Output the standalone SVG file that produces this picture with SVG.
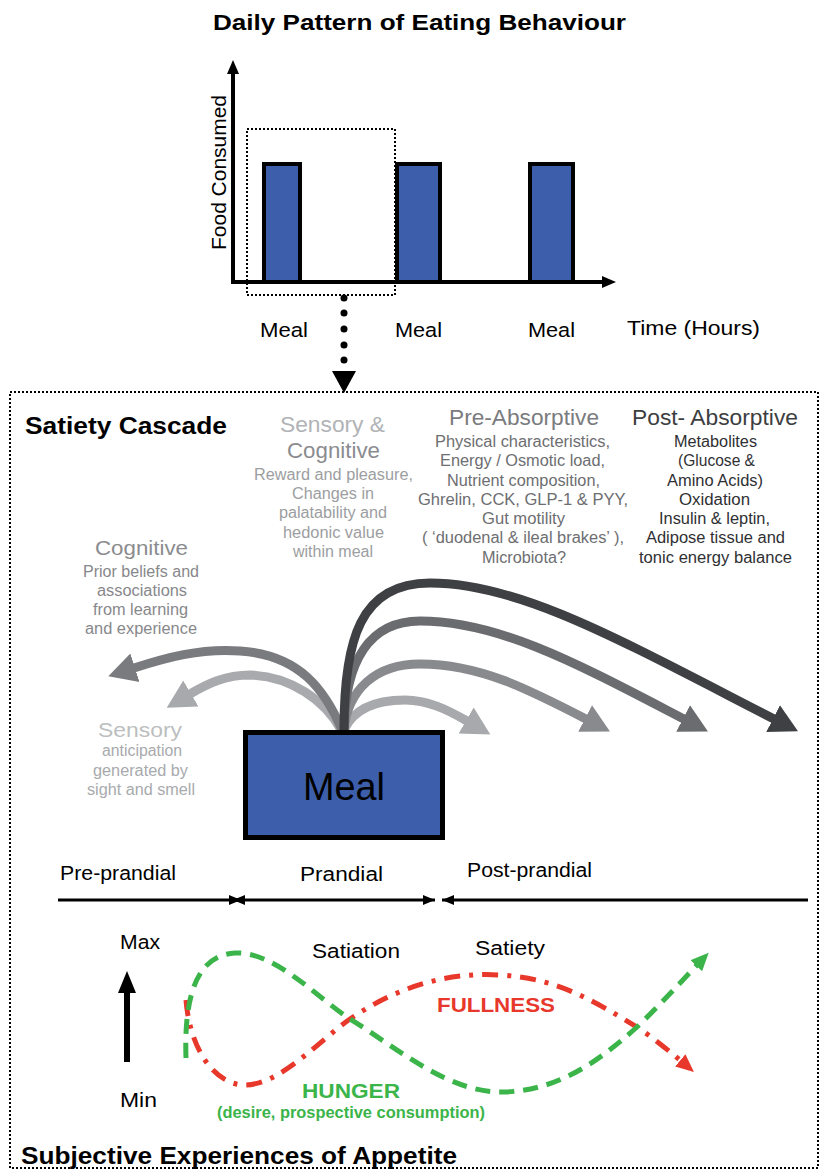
<svg xmlns="http://www.w3.org/2000/svg" width="824" height="1171" viewBox="0 0 824 1171">
<style>
text{font-family:"Liberation Sans",Arial,Helvetica,sans-serif}
.b{font-weight:bold}
.bar{fill:#3d5fab;stroke:#000;stroke-width:4}
.ax{stroke:#000;stroke-width:4;fill:none}
.dot{fill:none;stroke:#000;stroke-width:2;stroke-dasharray:2 2}
.g{fill:none;stroke-width:9;stroke-linecap:butt}
.tl{stroke:#000;stroke-width:3;fill:none}
.hun{fill:none;stroke:#3bb44a;stroke-width:5;stroke-dasharray:15 9}
.ful{fill:none;stroke:#e8382b;stroke-width:5;stroke-dasharray:16 9 4 9}
</style>
<defs>
<marker id="axh" markerUnits="userSpaceOnUse" viewBox="0 0 14 12" refX="2" refY="6" markerWidth="14" markerHeight="12" orient="auto"><path d="M0,0 L14,6 L0,12 z" fill="#000"/></marker>
<marker id="tlh" markerUnits="userSpaceOnUse" viewBox="0 0 12 12" refX="12" refY="6" markerWidth="12" markerHeight="12" orient="auto-start-reverse"><path d="M0,1 L12,6 L0,11 z" fill="#000"/></marker>
<marker id="up" markerUnits="userSpaceOnUse" viewBox="0 0 22 18" refX="1" refY="9" markerWidth="22" markerHeight="18" orient="auto"><path d="M0,0 L22,9 L0,18 z" fill="#000"/></marker>
<marker id="a1" markerUnits="userSpaceOnUse" viewBox="0 0 28 32" refX="1" refY="16" markerWidth="28" markerHeight="32" orient="auto"><path d="M0,1 L28,16 L0,31 z" fill="#3f4043"/></marker>
<marker id="a2" markerUnits="userSpaceOnUse" viewBox="0 0 28 32" refX="1" refY="16" markerWidth="28" markerHeight="32" orient="auto"><path d="M0,1 L28,16 L0,31 z" fill="#6b6c6f"/></marker>
<marker id="a3" markerUnits="userSpaceOnUse" viewBox="0 0 28 32" refX="1" refY="16" markerWidth="28" markerHeight="32" orient="auto"><path d="M0,1 L28,16 L0,31 z" fill="#898a8d"/></marker>
<marker id="a4" markerUnits="userSpaceOnUse" viewBox="0 0 28 32" refX="1" refY="16" markerWidth="28" markerHeight="32" orient="auto"><path d="M0,1 L28,16 L0,31 z" fill="#a7a9ac"/></marker>
<marker id="a5" markerUnits="userSpaceOnUse" viewBox="0 0 28 32" refX="1" refY="16" markerWidth="28" markerHeight="32" orient="auto"><path d="M0,1 L28,16 L0,31 z" fill="#7a7b7e"/></marker>
<marker id="gh" markerUnits="userSpaceOnUse" viewBox="0 0 18 16" refX="1" refY="8" markerWidth="18" markerHeight="16" orient="auto"><path d="M0,0 L18,8 L0,16 z" fill="#3bb44a"/></marker>
<marker id="rh" markerUnits="userSpaceOnUse" viewBox="0 0 18 16" refX="1" refY="8" markerWidth="18" markerHeight="16" orient="auto"><path d="M0,0 L18,8 L0,16 z" fill="#e8382b"/></marker>
</defs>
<rect width="824" height="1171" fill="#fff"/>

<g id="daily-pattern">
<text class="b" x="213" y="30" font-size="22.5" textLength="413" lengthAdjust="spacingAndGlyphs">Daily Pattern of Eating Behaviour</text>
<line class="ax" x1="233" y1="284" x2="233" y2="72" marker-end="url(#axh)"/>
<line class="ax" x1="231" y1="282" x2="604" y2="282" marker-end="url(#axh)"/>
<text transform="translate(226,250) rotate(-90)" font-size="20.5" textLength="155" lengthAdjust="spacingAndGlyphs">Food Consumed</text>
<rect class="bar" x="264" y="164" width="36" height="118"/>
<rect class="bar" x="397" y="164" width="43" height="118"/>
<rect class="bar" x="530" y="164" width="43" height="118"/>
<rect class="dot" x="247" y="129" width="148" height="166"/>
<text x="260" y="337" font-size="20.5" textLength="48" lengthAdjust="spacingAndGlyphs">Meal</text>
<text x="395" y="337" font-size="20.5" textLength="47" lengthAdjust="spacingAndGlyphs">Meal</text>
<text x="528" y="337" font-size="20.5" textLength="47" lengthAdjust="spacingAndGlyphs">Meal</text>
<text x="627" y="335" font-size="20.5" textLength="133" lengthAdjust="spacingAndGlyphs">Time (Hours)</text>
</g>

<g id="zoom-arrow">
<circle cx="344" cy="298" r="3.5"/>
<circle cx="344" cy="313" r="3.5"/>
<circle cx="344" cy="329" r="3.5"/>
<circle cx="344" cy="345" r="3.5"/>
<circle cx="344" cy="360" r="3.5"/>
<polygon points="332,371 356,371 344,393"/>
</g>

<g id="frame">
<rect class="dot" x="10" y="392" width="808" height="776"/>
</g>

<g id="satiety-cascade-title">
<text class="b" x="25" y="434" font-size="24" textLength="202" lengthAdjust="spacingAndGlyphs">Satiety Cascade</text>
</g>

<g id="sensory-cognitive">
<text x="280" y="432" font-size="21.5" fill="#b1b3b6" textLength="105" lengthAdjust="spacingAndGlyphs">Sensory &amp;</text>
<text x="287" y="458" font-size="21.5" fill="#8b8c8f" textLength="93" lengthAdjust="spacingAndGlyphs">Cognitive</text>
<g font-size="16" fill="#9c9ea1">
<text x="254" y="480" textLength="159" lengthAdjust="spacingAndGlyphs">Reward and pleasure,</text>
<text x="292" y="499" textLength="82" lengthAdjust="spacingAndGlyphs">Changes in</text>
<text x="279" y="518" textLength="108" lengthAdjust="spacingAndGlyphs">palatability and</text>
<text x="283" y="538" textLength="101" lengthAdjust="spacingAndGlyphs">hedonic value</text>
<text x="293" y="557" textLength="80" lengthAdjust="spacingAndGlyphs">within meal</text>
</g>
</g>

<g id="pre-absorptive">
<text x="449" y="425" font-size="21.5" fill="#7a7b7e" textLength="150" lengthAdjust="spacingAndGlyphs">Pre-Absorptive</text>
<g font-size="16" fill="#6d6e71">
<text x="435" y="447" textLength="175" lengthAdjust="spacingAndGlyphs">Physical characteristics,</text>
<text x="440" y="466" textLength="165" lengthAdjust="spacingAndGlyphs">Energy / Osmotic load,</text>
<text x="447" y="486" textLength="153" lengthAdjust="spacingAndGlyphs">Nutrient composition,</text>
<text x="418" y="505" textLength="210" lengthAdjust="spacingAndGlyphs">Ghrelin, CCK, GLP-1 &amp; PYY,</text>
<text x="482" y="524" textLength="83" lengthAdjust="spacingAndGlyphs">Gut motility</text>
<text x="422" y="543" textLength="202" lengthAdjust="spacingAndGlyphs">( ‘duodenal &amp; ileal brakes’ ),</text>
<text x="482" y="563" textLength="84" lengthAdjust="spacingAndGlyphs">Microbiota?</text>
</g>
</g>

<g id="post-absorptive">
<text x="632" y="425" font-size="21.5" fill="#3d3e41" textLength="166" lengthAdjust="spacingAndGlyphs">Post- Absorptive</text>
<g font-size="16" fill="#2f3033">
<text x="674" y="447" textLength="83" lengthAdjust="spacingAndGlyphs">Metabolites</text>
<text x="678" y="466" textLength="77" lengthAdjust="spacingAndGlyphs">(Glucose &amp;</text>
<text x="667" y="486" textLength="96" lengthAdjust="spacingAndGlyphs">Amino Acids)</text>
<text x="679" y="505" textLength="71" lengthAdjust="spacingAndGlyphs">Oxidation</text>
<text x="659" y="524" textLength="111" lengthAdjust="spacingAndGlyphs">Insulin &amp; leptin,</text>
<text x="646" y="543" textLength="139" lengthAdjust="spacingAndGlyphs">Adipose tissue and</text>
<text x="639" y="563" textLength="153" lengthAdjust="spacingAndGlyphs">tonic energy balance</text>
</g>
</g>

<g id="cognitive">
<text x="95" y="555" font-size="21" fill="#8b8c8f" textLength="93" lengthAdjust="spacingAndGlyphs">Cognitive</text>
<g font-size="16" fill="#87888b">
<text x="83" y="577" textLength="116" lengthAdjust="spacingAndGlyphs">Prior beliefs and</text>
<text x="97" y="596" textLength="90" lengthAdjust="spacingAndGlyphs">associations</text>
<text x="93" y="615" textLength="95" lengthAdjust="spacingAndGlyphs">from learning</text>
<text x="85" y="634" textLength="112" lengthAdjust="spacingAndGlyphs">and experience</text>
</g>
</g>

<g id="sensory">
<text x="98" y="737" font-size="21" fill="#bcbec0" textLength="84" lengthAdjust="spacingAndGlyphs">Sensory</text>
<g font-size="16" fill="#a8aaad">
<text x="102" y="756" textLength="80" lengthAdjust="spacingAndGlyphs">anticipation</text>
<text x="93" y="776" textLength="95" lengthAdjust="spacingAndGlyphs">generated by</text>
<text x="87" y="795" textLength="108" lengthAdjust="spacingAndGlyphs">sight and smell</text>
</g>
</g>

<g id="connectors">
<path class="g" stroke="#a7a9ac" d="M344,730 C355,706 380,700 405,700 C428,700 448,710 467,721" marker-end="url(#a4)"/>
<path class="g" stroke="#a8aaad" d="M341,730 C325,700 290,676 250,675 C225,675 207,684 190,694" marker-end="url(#a4)"/>
<path class="g" stroke="#7a7b7e" d="M342,730 C325,690 300,655 240,651 C200,648 165,658 134,668" marker-end="url(#a5)"/>
<path class="g" stroke="#898a8d" d="M344,730 C348,690 375,664 420,664 C480,664 530,690 586,719" marker-end="url(#a3)"/>
<path class="g" stroke="#6b6c6f" d="M344,730 C345,660 370,621 420,621 C500,621 580,665 684,719" marker-end="url(#a2)"/>
<path class="g" stroke="#3f4043" stroke-width="10" d="M344,730 C344,640 360,583 430,583 C520,583 620,640 774,719" marker-end="url(#a1)"/>
</g>

<g id="meal">
<rect x="245.5" y="732.5" width="197" height="105" fill="#3d5fab" stroke="#000" stroke-width="5"/>
<text x="303" y="800" font-size="38" textLength="82" lengthAdjust="spacingAndGlyphs">Meal</text>
</g>

<g id="timeline">
<path class="tl" d="M58,900 H241" marker-end="url(#tlh)"/>
<path class="tl" d="M233,900 H435" marker-start="url(#tlh)" marker-end="url(#tlh)"/>
<path class="tl" d="M442,900 H808" marker-start="url(#tlh)"/>
<text x="60" y="880" font-size="20" textLength="116" lengthAdjust="spacingAndGlyphs">Pre-prandial</text>
<text x="300" y="881" font-size="20" textLength="83" lengthAdjust="spacingAndGlyphs">Prandial</text>
<text x="467" y="877" font-size="20" textLength="125" lengthAdjust="spacingAndGlyphs">Post-prandial</text>
</g>

<g id="appetite">
<line x1="127" y1="1062" x2="127" y2="992" stroke="#000" stroke-width="6" marker-end="url(#up)"/>
<text x="120" y="949" font-size="20.5" textLength="40" lengthAdjust="spacingAndGlyphs">Max</text>
<text x="120" y="1107" font-size="20.5" textLength="37" lengthAdjust="spacingAndGlyphs">Min</text>
<text x="312" y="958" font-size="20.5" textLength="88" lengthAdjust="spacingAndGlyphs">Satiation</text>
<text x="475" y="955" font-size="20.5" textLength="70" lengthAdjust="spacingAndGlyphs">Satiety</text>
<path class="ful" d="M186,1000 C190,1050 215,1085 245,1085 C280,1085 320,1040 350,1019 C400,985 450,972 500,975 C560,978 600,1005 637,1027 C652,1037 668,1050 681,1061" marker-end="url(#rh)"/>
<path class="hun" d="M186,1058 C184,1000 195,955 235,953 C275,951 320,1000 350,1019 C400,1050 450,1094 505,1092 C560,1090 600,1060 637,1027 C660,1005 678,985 697,965" marker-end="url(#gh)"/>
<text class="b" x="437" y="1012" font-size="21" fill="#e8382b" textLength="118" lengthAdjust="spacingAndGlyphs">FULLNESS</text>
<text class="b" x="302" y="1098" font-size="21" fill="#3bb44a" textLength="98" lengthAdjust="spacingAndGlyphs">HUNGER</text>
<text class="b" x="217" y="1118" font-size="16" fill="#3bb44a" textLength="268" lengthAdjust="spacingAndGlyphs">(desire, prospective consumption)</text>
<text class="b" x="21" y="1164" font-size="24" textLength="436" lengthAdjust="spacingAndGlyphs">Subjective Experiences of Appetite</text>
</g>
</svg>
